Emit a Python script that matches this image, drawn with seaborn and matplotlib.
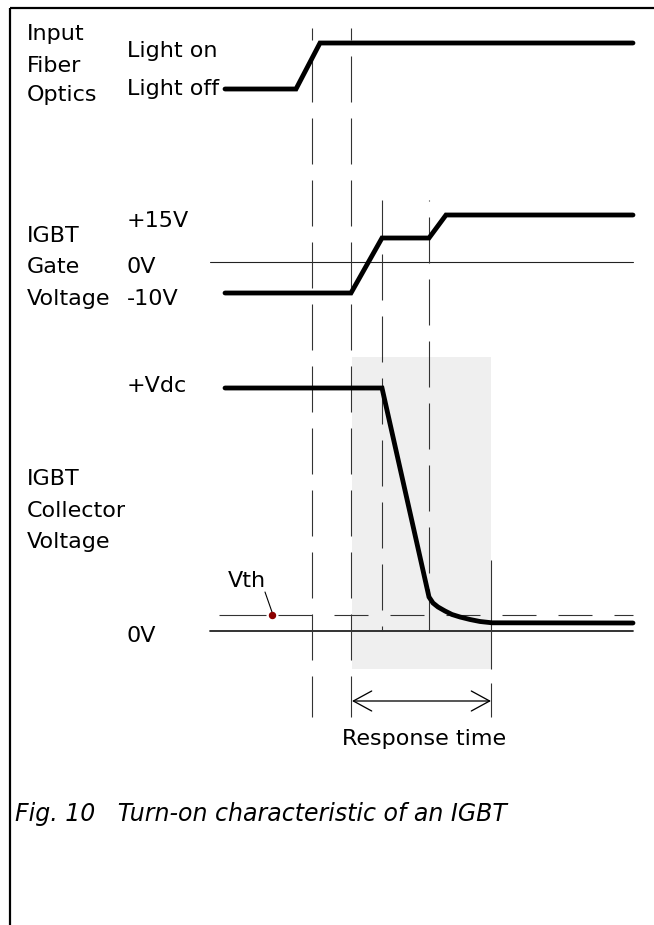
import pandas as pd
import seaborn as sns
import matplotlib.pyplot as plt

sns.set_theme(style="white")
plt.rcParams['font.family'] = ['DejaVu Sans']
plt.rcParams['lines.scale_dashes'] = False

PX = 0.72  # points per pixel (dpi 100)

# waveforms: time position and level, in drawing units (level grows downward)
fiber_t = [225, 296, 320, 633]
fiber_v = [89, 89, 43, 43]
gate_t = [225, 351, 382, 429, 446, 633]
gate_v = [293, 293, 238, 238, 215, 215]
coll_t = [225, 382, 429, 433, 438, 445, 452, 460, 470, 480, 492, 633]
coll_v = [388, 388, 597, 603, 607, 611, 614.5, 617, 619.5, 621.5, 622.8, 623]

# timing markers (dashed verticals)
mark_x = [312, 351, 382, 429, 491]
mark_top = [28, 28, 200, 200, 560]
mark_bot = [717, 717, 631, 631, 717]
mark_offset = [34, 34, 8, 45, 0]

# reference levels
gate_zero = 262
coll_zero = 631
vth_level = 615
vth_dot_x = 272

# response time window
resp_start, resp_end = 352, 491
box_top, box_bot = 357, 669
arrow_y = 701

labels = [
    (27, 40, "Input"), (27, 72, "Fiber"), (27, 101, "Optics"),
    (127, 57, "Light on"), (127, 95, "Light off"),
    (127, 227, "+15V"), (27, 242, "IGBT"), (27, 273, "Gate"), (127, 273, "0V"),
    (27, 305, "Voltage"), (127, 305, "-10V"),
    (127, 392, "+Vdc"), (27, 485, "IGBT"), (27, 517, "Collector"), (27, 548, "Voltage"),
    (228, 587, "Vth"), (127, 642, "0V"),
]

fig = plt.figure(figsize=(6.54, 9.25), dpi=100)
ax = fig.add_axes([0, 0, 1, 1])

# frame (top and left edges)
ax.plot([10, 654], [8, 8], color='black', lw=2.2 * PX, solid_capstyle='butt')
ax.plot([10, 10], [8, 925], color='black', lw=2.2 * PX, solid_capstyle='butt')

# shaded response window
ax.fill_between([resp_start, resp_end], box_top, box_bot, color='#efefef', lw=0, zorder=0)

# zero lines and threshold
ax.plot([210, 633], [gate_zero, gate_zero], color='#222222', lw=1.1 * PX)
ax.plot([210, 633], [coll_zero, coll_zero], color='#222222', lw=1.8 * PX)
ax.plot([219, 266], [vth_level, vth_level], color='#333333', lw=1.1 * PX,
        solid_capstyle='butt')
ax.plot([278, 633], [vth_level, vth_level], color='#333333', lw=1.1 * PX,
        linestyle=(0, (34 * PX, 22 * PX)))

# dashed timing markers
for i, x in enumerate(mark_x):
    pattern = (109 * PX, 14 * PX) if i == 4 else (46 * PX, 16 * PX)
    ax.plot([x, x], [mark_top[i], mark_bot[i]], color='#333333', lw=1.1 * PX,
            linestyle=(mark_offset[i] * PX, pattern))

# waveforms
traces = pd.concat([
    pd.DataFrame({'t': fiber_t, 'v': fiber_v, 'sig': 'fiber'}),
    pd.DataFrame({'t': gate_t, 'v': gate_v, 'sig': 'gate'}),
    pd.DataFrame({'t': coll_t, 'v': coll_v, 'sig': 'collector'}),
])
for name, grp in traces.groupby('sig'):
    sns.lineplot(data=grp, x='t', y='v', sort=False, estimator=None, ax=ax,
                 color='black', lw=4.8 * PX, solid_capstyle='round',
                 solid_joinstyle='miter', legend=False)

# Vth marker
ax.plot([vth_dot_x, 265], [vth_level - 3, 592], color='black', lw=1.1 * PX)
ax.plot([vth_dot_x], [vth_level], marker='o', ms=6 * PX, color='#8b0000', zorder=5)

# response time arrow
ax.annotate('', xy=(resp_start, arrow_y), xytext=(resp_end, arrow_y),
            arrowprops=dict(arrowstyle='<->,head_length=1.1,head_width=0.6',
                            color='black', lw=1.3 * PX, shrinkA=0, shrinkB=0))
ax.text((resp_start + resp_end) / 2 + 3, 745, "Response time", ha='center',
        va='baseline', fontsize=16, color='black')

for x, y, s in labels:
    ax.text(x, y, s, ha='left', va='baseline', fontsize=16, color='black')

ax.text(15, 821, "Fig. 10   Turn-on characteristic of an IGBT", ha='left',
        va='baseline', fontsize=17, style='italic', color='black')

ax.set_xlim(0, 654)
ax.set_ylim(925, 0)
ax.axis('off')

fig.savefig('out.png', dpi=100)
